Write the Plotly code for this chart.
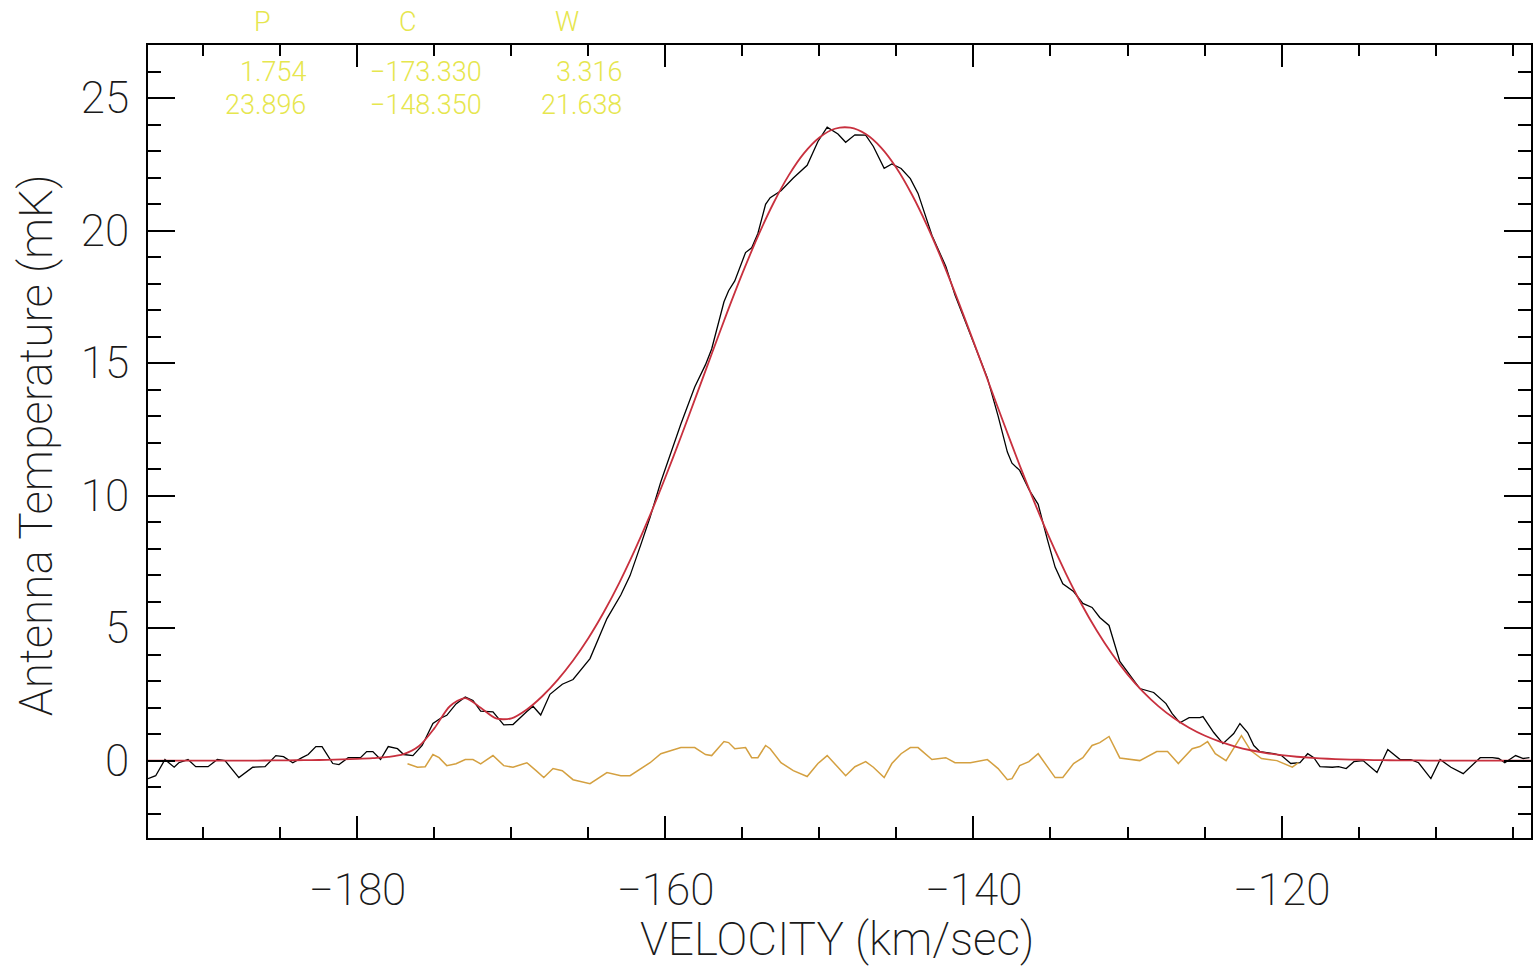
import plotly.graph_objects as go

# ---------------- data ----------------
# observed spectrum (black)
vel_data = [-193.6, -193.1, -192.5, -191.9, -191.6, -191.0, -190.5, -189.7, -189.1, -188.6,
            -187.7, -186.8, -186.0, -185.3, -184.8, -184.2, -183.6, -183.2, -182.7, -182.3,
            -181.6, -181.2, -180.6, -179.8, -179.4, -179.0, -178.5, -178.0, -177.4, -177.0,
            -176.4, -175.8, -175.1, -174.6, -174.2, -173.6, -173.0, -172.5, -172.0, -171.2,
            -170.5, -169.9, -169.0, -168.6, -168.1, -167.5, -166.7, -166.0, -164.9, -163.8,
            -162.9, -162.3, -161.6, -161.0, -160.3, -159.7, -159.0, -158.1, -157.4, -157.0,
            -156.2, -155.9, -155.5, -154.8, -154.4, -154.0, -153.5, -153.2, -152.5, -151.7,
            -150.8, -150.1, -149.5, -148.8, -148.3, -147.7, -147.0, -146.5, -145.8, -145.3,
            -144.7, -144.1, -143.6, -142.7, -141.8, -141.2, -140.2, -139.1, -138.4, -137.8,
            -137.5, -137.0, -136.4, -135.8, -135.2, -134.7, -134.2, -133.5, -132.9, -132.3,
            -131.8, -131.2, -130.5, -129.2, -128.3, -127.5, -127.1, -126.6, -126.0, -125.3,
            -125.1, -124.4, -123.8, -123.1, -122.7, -122.2, -121.8, -121.4, -120.5, -120.0,
            -119.4, -118.8, -118.3, -117.9, -117.5, -116.7, -116.3, -115.8, -115.3, -114.7,
            -113.8, -113.1, -112.3, -111.6, -111.1, -110.3, -109.7, -109.0, -108.2, -107.1,
            -106.3, -105.9, -105.5, -104.8, -104.3, -103.9]
temp_data = [-0.68, -0.57, 0.04, -0.25, -0.08, 0.04, -0.23, -0.23, 0.04, 0.00,
             -0.64, -0.25, -0.23, 0.19, 0.15, -0.08, 0.11, 0.23, 0.53, 0.53,
             -0.11, -0.15, 0.11, 0.11, 0.34, 0.34, 0.04, 0.53, 0.45, 0.23,
             0.19, 0.57, 1.40, 1.60, 1.71, 2.14, 2.40, 2.27, 1.87, 1.84,
             1.35, 1.36, 1.85, 2.05, 1.72, 2.50, 2.88, 3.06, 3.85, 5.36,
             6.25, 6.98, 8.15, 9.18, 10.52, 11.52, 12.70, 14.10, 14.94, 15.53,
             17.31, 17.73, 18.10, 19.17, 19.35, 19.89, 20.99, 21.24, 21.50, 21.98,
             22.46, 23.36, 23.90, 23.64, 23.33, 23.61, 23.60, 23.17, 22.35, 22.51,
             22.34, 21.96, 21.40, 19.82, 18.65, 17.57, 16.05, 14.44, 13.00, 11.64,
             11.22, 10.95, 10.23, 9.67, 8.34, 7.30, 6.67, 6.38, 5.93, 5.78,
             5.40, 5.10, 3.74, 2.72, 2.57, 2.15, 1.77, 1.43, 1.62, 1.62,
             1.66, 1.06, 0.64, 1.02, 1.40, 1.06, 0.57, 0.34, 0.26, 0.19,
             -0.11, -0.08, 0.26, 0.11, -0.23, -0.25, -0.23, -0.30, -0.04, 0.00,
             -0.45, 0.42, 0.04, 0.04, -0.08, -0.68, 0.04, -0.25, -0.49, 0.11,
             0.11, 0.08, -0.08, 0.19, 0.08, 0.11]

# Gaussian fit (red), read at 1 km/s steps
vel_fit = [-194, -193, -192, -191, -190, -189, -188, -187, -186, -185,
           -184, -183, -182, -181, -180, -179, -178, -177, -176, -175,
           -174, -173, -172, -171, -170, -169, -168, -167, -166, -165,
           -164, -163, -162, -161, -160, -159, -158, -157, -156, -155,
           -154, -153, -152, -151, -150, -149, -148, -147, -146, -145,
           -144, -143, -142, -141, -140, -139, -138, -137, -136, -135,
           -134, -133, -132, -131, -130, -129, -128, -127, -126, -125,
           -124, -123, -122, -121, -120, -119, -118, -117, -116, -115,
           -114, -113, -112, -111, -110, -109, -108, -107, -106, -105,
           -104, -103]
temp_fit = [0.0, 0.0, 0.0, 0.0, 0.0, 0.0, 0.0, 0.0, 0.005, 0.009,
            0.013, 0.019, 0.029, 0.043, 0.063, 0.092, 0.138, 0.244, 0.549, 1.224,
            2.052, 2.361, 1.994, 1.591, 1.595, 1.929, 2.428, 3.047, 3.778, 4.627,
            5.605, 6.706, 7.929, 9.262, 10.70, 12.21, 13.77, 15.34, 16.90, 18.39,
            19.78, 21.02, 22.08, 22.92, 23.51, 23.84, 23.88, 23.64, 23.13, 22.36,
            21.36, 20.17, 18.82, 17.35, 15.81, 14.24, 12.67, 11.14, 9.685, 8.316,
            7.059, 5.920, 4.906, 4.019, 3.253, 2.603, 2.057, 1.607, 1.241, 0.946,
            0.714, 0.532, 0.391, 0.285, 0.205, 0.146, 0.102, 0.071, 0.049, 0.033,
            0.022, 0.014, 0.009, 0.006, 0.0, 0.0, 0.0, 0.0, 0.0, 0.0,
            0.0, 0.0]

# residual (orange)
vel_resid = [-176.75, -176.1, -175.6, -175.1, -174.7, -174.2, -173.6, -173.0, -172.5, -172.0,
             -171.2, -170.5, -169.9, -169.0, -168.4, -167.9, -167.3, -166.7, -166.0, -164.9,
             -163.8, -162.9, -162.3, -161.6, -161.0, -160.3, -159.7, -159.0, -158.1, -157.4,
             -157.0, -156.2, -155.9, -155.5, -154.8, -154.4, -154.0, -153.5, -153.2, -152.5,
             -151.7, -150.8, -150.1, -149.5, -148.8, -148.3, -147.7, -147.0, -146.5, -145.8,
             -145.3, -144.7, -144.1, -143.6, -142.7, -141.8, -141.2, -140.2, -139.1, -138.4,
             -137.8, -137.5, -137.0, -136.4, -135.8, -135.2, -134.7, -134.2, -133.5, -132.9,
             -132.3, -131.8, -131.2, -130.5, -129.2, -128.1, -127.4, -126.7, -125.8, -125.3,
             -124.8, -124.3, -123.6, -122.6, -122.0, -121.3, -120.3, -119.3, -118.9]
temp_resid = [-0.12, -0.25, -0.23, 0.23, 0.11, -0.19, -0.12, 0.04, 0.04, -0.12,
              0.19, -0.19, -0.25, -0.08, -0.38, -0.64, -0.30, -0.38, -0.72, -0.87,
              -0.45, -0.57, -0.57, -0.30, -0.08, 0.26, 0.38, 0.49, 0.49, 0.23,
              0.19, 0.72, 0.68, 0.45, 0.49, 0.11, 0.11, 0.57, 0.45, -0.08,
              -0.38, -0.60, -0.11, 0.19, -0.25, -0.57, -0.23, -0.04, -0.25, -0.64,
              -0.11, 0.26, 0.49, 0.49, 0.04, 0.11, -0.08, -0.08, 0.04, -0.30,
              -0.72, -0.68, -0.19, -0.04, 0.26, -0.25, -0.64, -0.64, -0.11, 0.11,
              0.57, 0.68, 0.91, 0.10, 0.00, 0.34, 0.34, -0.11, 0.45, 0.53,
              0.72, 0.26, 0.00, 0.94, 0.38, 0.08, 0.00, -0.25, -0.08]

# fit parameters shown at the top
param_headers = ["P", "C", "W"]
fit_peak = [1.754, 23.896]
fit_center = [-173.330, -148.350]
fit_width = [3.316, 21.638]

x_range = [-193.6, -103.8]
y_range = [-2.92, 27.0]

# ---------------- figure ----------------
FONT = "Roboto"
TXT = "#1a1a1a"
YEL = "#e6e64e"
WT = 200

fig = go.Figure()
fig.add_trace(go.Scatter(x=vel_data, y=temp_data, mode="lines",
                         line=dict(color="black", width=1.3), hoverinfo="skip"))
fig.add_trace(go.Scatter(x=vel_resid, y=temp_resid, mode="lines",
                         line=dict(color="#d4a040", width=1.5), hoverinfo="skip"))
fig.add_trace(go.Scatter(x=vel_fit, y=temp_fit, mode="lines",
                         line=dict(color="#c8303e", width=1.8, shape="spline", smoothing=0.8),
                         hoverinfo="skip"))

L, R, T, B = 148, 5, 45, 131
W, H = 1538, 969
pw = W - L - R
ph = H - T - B


def px2paper(px, py):
    return (px - L) / pw, (H - B - py) / ph


fig.update_layout(
    width=W, height=H,
    margin=dict(l=L, r=R, t=T, b=B),
    paper_bgcolor="white", plot_bgcolor="white",
    showlegend=False,
    font=dict(family=FONT, color=TXT, size=44, weight=WT),
)

fig.update_xaxes(
    range=x_range, dtick=20, tick0=0,
    showgrid=False, zeroline=False,
    showline=True, linecolor="black", linewidth=2, mirror="ticks",
    ticks="inside", ticklen=22, tickwidth=1.5, tickcolor="black",
    minor=dict(dtick=5, tick0=0, ticks="inside", ticklen=11, tickwidth=1.5,
               tickcolor="black", showgrid=False),
    tickfont=dict(family=FONT, size=44, color=TXT, weight=WT),
    ticklabelstandoff=12,
)
fig.update_yaxes(
    range=y_range, dtick=5, tick0=0,
    showgrid=False, zeroline=False,
    showline=True, linecolor="black", linewidth=2, mirror="ticks",
    ticks="inside", ticklen=27, tickwidth=1.5, tickcolor="black",
    minor=dict(dtick=1, tick0=0, ticks="inside", ticklen=13, tickwidth=1.5,
               tickcolor="black", showgrid=False),
    tickfont=dict(family=FONT, size=44, color=TXT, weight=WT),
    ticklabelstandoff=8,
)

# axis titles
ax, ay = px2paper(838, 939)
fig.add_annotation(text="VELOCITY (km/sec)", xref="paper", yref="paper",
                   x=ax, y=ay, xanchor="center", yanchor="middle", showarrow=False,
                   font=dict(family=FONT, size=46, color=TXT, weight=WT))
ax, ay = px2paper(36, 445)
fig.add_annotation(text="Antenna Temperature (mK)", xref="paper", yref="paper",
                   x=ax, y=ay, xanchor="center", yanchor="middle", showarrow=False,
                   textangle=-90,
                   font=dict(family=FONT, size=46, color=TXT, weight=WT))


def fmt(v):
    return ("%.3f" % v).replace("-", "\u2212")


# parameter table in yellow
header_px = [263, 408, 568]
col_right_px = [308, 484, 625]
row_py = [72, 105]
for hx, h in zip(header_px, param_headers):
    ax, ay = px2paper(hx, 22)
    fig.add_annotation(text=h, xref="paper", yref="paper", x=ax, y=ay,
                       xanchor="center", yanchor="middle", showarrow=False,
                       font=dict(family=FONT, size=27, color=YEL, weight=300))
cols = [fit_peak, fit_center, fit_width]
for ci, col in enumerate(cols):
    for ri, val in enumerate(col):
        ax, ay = px2paper(col_right_px[ci], row_py[ri])
        fig.add_annotation(text=fmt(val), xref="paper", yref="paper", x=ax, y=ay,
                           xanchor="right", yanchor="middle", showarrow=False,
                           font=dict(family=FONT, size=27, color=YEL, weight=300))

fig.write_html("out.html",
               config={"displayModeBar": False},
               post_script="document.body.style.margin='0';"
                           "document.body.style.overflow='hidden';")
